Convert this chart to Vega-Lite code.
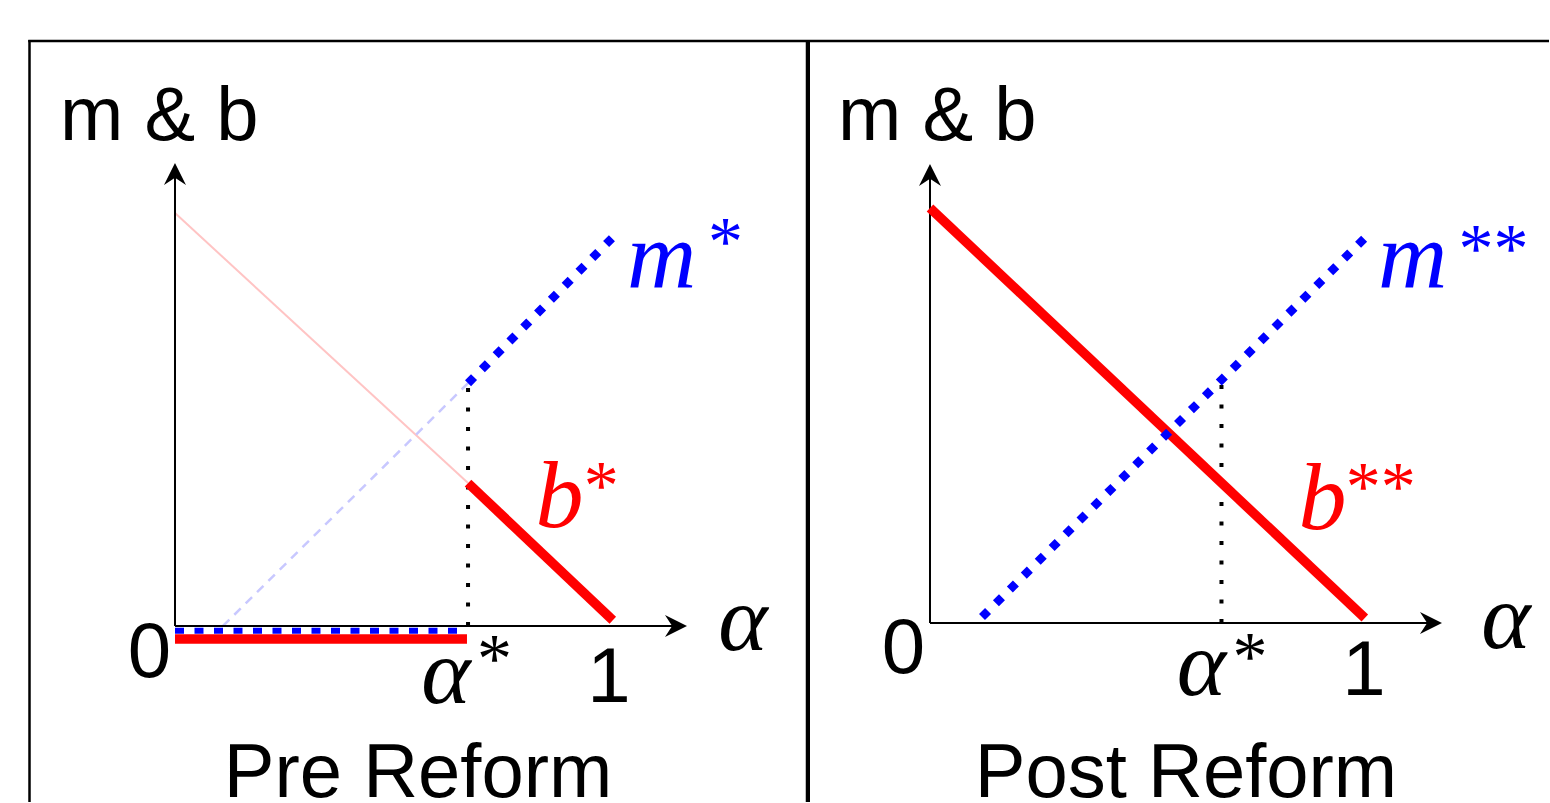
{
  "$schema": "https://vega.github.io/schema/vega-lite/v6.json",
  "padding": 0,
  "spacing": 0,
  "bounds": "flush",
  "background": "white",
  "config": {"view": {"stroke": null, "fill": "white"}},
  "datasets": {
    "segs": [
      {"panel": "L", "seg": "frame", "a": -0.3335, "v": 1.41646, "a2": 1.438636, "v2": 1.41646},
      {"panel": "L", "seg": "frame", "a": -0.33068, "v": -0.42615, "a2": -0.33068, "v2": 1.4189},
      {"panel": "L", "seg": "frame", "a": 1.43636, "v": -0.42615, "a2": 1.43636, "v2": 1.4189},
      {"panel": "L", "seg": "axis", "a": 0, "v": 0, "a2": 0, "v2": 1.0956},
      {"panel": "L", "seg": "axis", "a": 0, "v": 0, "a2": 1.1398, "v2": 0},
      {"panel": "L", "seg": "b_faint", "a": 0, "v": 1.0, "a2": 0.666, "v2": 0.346},
      {"panel": "L", "seg": "m_faint", "a": 0.109, "v": 0, "a2": 0.666, "v2": 0.588},
      {"panel": "L", "seg": "astar", "a": 0.666, "v": 0, "a2": 0.666, "v2": 0.588},
      {"panel": "L", "seg": "b_thick", "a": 0.666, "v": 0.346, "a2": 0.995, "v2": 0.014},
      {"panel": "L", "seg": "b_zero", "a": 0, "v": -0.0315, "a2": 0.6636, "v2": -0.0315},
      {"panel": "L", "seg": "m_zero", "a": 0, "v": -0.0114, "a2": 0.6636, "v2": -0.0114},
      {"panel": "L", "seg": "m_dot", "a": 0.666, "v": 0.588, "a2": 0.993, "v2": 0.939},
      {"panel": "R", "seg": "frame", "a": -0.279176, "v": 1.40241, "a2": 1.41648, "v2": 1.40241},
      {"panel": "R", "seg": "divider", "a": -0.279176, "v": -0.43133, "a2": -0.279176, "v2": 1.4048},
      {"panel": "R", "seg": "axis", "a": 0, "v": 0, "a2": 0, "v2": 1.0807},
      {"panel": "R", "seg": "axis", "a": 0, "v": 0, "a2": 1.1476, "v2": 0},
      {"panel": "R", "seg": "astar", "a": 0.667, "v": 0, "a2": 0.667, "v2": 0.578},
      {"panel": "R", "seg": "b_thick", "a": 0, "v": 1.0, "a2": 0.995, "v2": 0.012},
      {"panel": "R", "seg": "m_dot", "a": 0.119, "v": 0.0145, "a2": 1.002, "v2": 0.935}
    ],
    "arrows": [
      {"panel": "L", "dir": "up", "a": 0, "v": 1.0944},
      {"panel": "L", "dir": "right", "a": 1.1386, "v": 0},
      {"panel": "R", "dir": "up", "a": 0, "v": 1.0795},
      {"panel": "R", "dir": "right", "a": 1.1464, "v": 0}
    ],
    "texts": [
      {"panel": "L", "role": "title", "series": "k", "label": "m & b", "a": -0.26136, "v": 1.17676},
      {"panel": "L", "role": "sans", "series": "k", "label": "0", "a": -0.058, "v": -0.1235},
      {"panel": "L", "role": "sans", "series": "k", "label": "1", "a": 0.9864, "v": -0.184},
      {"panel": "L", "role": "foot", "series": "k", "label": "Pre Reform", "a": 0.5523, "v": -0.414},
      {"panel": "L", "role": "mathc", "series": "k", "label": "α", "a": 1.2909, "v": -0.0581},
      {"panel": "L", "role": "mathc", "series": "k", "label": "α", "a": 0.6159, "v": -0.1864},
      {"panel": "L", "role": "star", "series": "k", "label": "*", "a": 0.7261, "v": -0.1356},
      {"panel": "L", "role": "mathl", "series": "m", "label": "m", "a": 1.0273, "v": 0.8184},
      {"panel": "L", "role": "star", "series": "m", "label": "*", "a": 1.2511, "v": 0.8741},
      {"panel": "L", "role": "mathl", "series": "b", "label": "b", "a": 0.8195, "v": 0.2397},
      {"panel": "L", "role": "star", "series": "b", "label": "*", "a": 0.9687, "v": 0.2833},
      {"panel": "R", "role": "title", "series": "k", "label": "m & b", "a": -0.2105, "v": 1.1639},
      {"panel": "R", "role": "sans", "series": "k", "label": "0", "a": -0.0606, "v": -0.1205},
      {"panel": "R", "role": "sans", "series": "k", "label": "1", "a": 0.9931, "v": -0.1735},
      {"panel": "R", "role": "foot", "series": "k", "label": "Post Reform", "a": 0.5858, "v": -0.4193},
      {"panel": "R", "role": "mathc", "series": "k", "label": "α", "a": 1.3181, "v": -0.0602},
      {"panel": "R", "role": "mathc", "series": "k", "label": "α", "a": 0.6213, "v": -0.1735},
      {"panel": "R", "role": "star", "series": "k", "label": "*", "a": 0.7323, "v": -0.1373},
      {"panel": "R", "role": "mathl", "series": "m", "label": "m", "a": 1.0252, "v": 0.8072},
      {"panel": "R", "role": "star", "series": "m", "label": "**", "a": 1.2895, "v": 0.8458},
      {"panel": "R", "role": "mathl", "series": "b", "label": "b", "a": 0.8435, "v": 0.2265},
      {"panel": "R", "role": "star", "series": "b", "label": "**", "a": 1.0313, "v": 0.2723}
    ]
  },
  "hconcat": [
    {
      "width": 808,
      "height": 803,
      "encoding": {
        "x": {"field": "a", "type": "quantitative", "scale": {"domain": [-0.397727, 1.438636], "nice": false, "zero": false}, "axis": null},
        "y": {"field": "v", "type": "quantitative", "scale": {"domain": [-0.428571, 1.515738], "nice": false, "zero": false}, "axis": null}
      },
      "layer": [
        {"data": {"name": "segs"}, "transform": [{"filter": "datum.panel === 'L' && datum.seg === 'frame'"}],
         "mark": {"type": "rule", "color": "#000000", "strokeWidth": 2.5, "clip": true},
         "encoding": {"x2": {"field": "a2"}, "y2": {"field": "v2"}}},
        {"data": {"name": "segs"}, "transform": [{"filter": "datum.panel === 'L' && datum.seg === 'b_faint'"}],
         "mark": {"type": "rule", "color": "#ffc4c4", "strokeWidth": 2},
         "encoding": {"x2": {"field": "a2"}, "y2": {"field": "v2"}}},
        {"data": {"name": "segs"}, "transform": [{"filter": "datum.panel === 'L' && datum.seg === 'm_faint'"}],
         "mark": {"type": "rule", "color": "#c8c8ff", "strokeWidth": 2.5, "strokeDash": [9, 7]},
         "encoding": {"x2": {"field": "a2"}, "y2": {"field": "v2"}}},
        {"data": {"name": "segs"}, "transform": [{"filter": "datum.panel === 'L' && datum.seg === 'axis'"}],
         "mark": {"type": "rule", "color": "#000000", "strokeWidth": 2},
         "encoding": {"x2": {"field": "a2"}, "y2": {"field": "v2"}}},
        {"data": {"name": "arrows"}, "transform": [{"filter": "datum.panel === 'L'"}],
         "mark": {"type": "point", "filled": true, "color": "#000000", "opacity": 1, "size": 484, "strokeWidth": 0},
         "encoding": {"shape": {"field": "dir", "type": "nominal", "legend": null, "scale": {"domain": ["up", "right"], "range": ["M0,-1L1,1L0,0.35L-1,1Z", "M1,0L-1,1L-0.35,0L-1,-1Z"]}}}},
        {"data": {"name": "segs"}, "transform": [{"filter": "datum.panel === 'L' && datum.seg === 'astar'"}],
         "mark": {"type": "rule", "color": "#000000", "strokeWidth": 4, "strokeDash": [4, 15.5]},
         "encoding": {"x2": {"field": "a2"}, "y2": {"field": "v2"}}},
        {"data": {"name": "segs"}, "transform": [{"filter": "datum.panel === 'L' && (datum.seg === 'b_thick' || datum.seg === 'b_zero')"}],
         "mark": {"type": "rule", "color": "#ff0000", "strokeWidth": 9.5},
         "encoding": {"x2": {"field": "a2"}, "y2": {"field": "v2"}}},
        {"data": {"name": "segs"}, "transform": [{"filter": "datum.panel === 'L' && datum.seg === 'm_zero'"}],
         "mark": {"type": "rule", "color": "#0000ff", "strokeWidth": 6, "strokeDash": [9, 10.5]},
         "encoding": {"x2": {"field": "a2"}, "y2": {"field": "v2"}}},
        {"data": {"name": "segs"}, "transform": [{"filter": "datum.panel === 'L' && datum.seg === 'm_dot'"}],
         "mark": {"type": "rule", "color": "#0000ff", "strokeWidth": 8.5, "strokeDash": [8.5, 11.1]},
         "encoding": {"x2": {"field": "a2"}, "y2": {"field": "v2"}}},
        {"data": {"name": "texts"}, "transform": [{"filter": "datum.panel === 'L' && datum.role === 'title'"}],
         "mark": {"type": "text", "font": "Liberation Sans", "fontSize": 76, "align": "left", "baseline": "alphabetic"},
         "encoding": {"text": {"field": "label"}, "color": {"field": "series", "type": "nominal", "legend": null, "scale": {"domain": ["k", "m", "b"], "range": ["#000000", "#0000ff", "#ff0000"]}}}},
        {"data": {"name": "texts"}, "transform": [{"filter": "datum.panel === 'L' && datum.role === 'sans'"}],
         "mark": {"type": "text", "font": "Liberation Sans", "fontSize": 78, "align": "center", "baseline": "alphabetic", "clip": true},
         "encoding": {"text": {"field": "label"}, "color": {"field": "series", "type": "nominal", "legend": null, "scale": {"domain": ["k", "m", "b"], "range": ["#000000", "#0000ff", "#ff0000"]}}}},
        {"data": {"name": "texts"}, "transform": [{"filter": "datum.panel === 'L' && datum.role === 'foot'"}],
         "mark": {"type": "text", "font": "Liberation Sans", "fontSize": 76, "align": "center", "baseline": "alphabetic", "clip": true},
         "encoding": {"text": {"field": "label"}, "color": {"field": "series", "type": "nominal", "legend": null, "scale": {"domain": ["k", "m", "b"], "range": ["#000000", "#0000ff", "#ff0000"]}}}},
        {"data": {"name": "texts"}, "transform": [{"filter": "datum.panel === 'L' && datum.role === 'mathc'"}],
         "mark": {"type": "text", "font": "Liberation Serif", "fontStyle": "italic", "fontSize": 94, "align": "center", "baseline": "alphabetic"},
         "encoding": {"text": {"field": "label"}, "color": {"field": "series", "type": "nominal", "legend": null, "scale": {"domain": ["k", "m", "b"], "range": ["#000000", "#0000ff", "#ff0000"]}}}},
        {"data": {"name": "texts"}, "transform": [{"filter": "datum.panel === 'L' && datum.role === 'mathl'"}],
         "mark": {"type": "text", "font": "Liberation Serif", "fontStyle": "italic", "fontSize": 96, "align": "left", "baseline": "alphabetic"},
         "encoding": {"text": {"field": "label"}, "color": {"field": "series", "type": "nominal", "legend": null, "scale": {"domain": ["k", "m", "b"], "range": ["#000000", "#0000ff", "#ff0000"]}}}},
        {"data": {"name": "texts"}, "transform": [{"filter": "datum.panel === 'L' && datum.role === 'star'"}],
         "mark": {"type": "text", "font": "Liberation Serif", "fontSize": 70, "align": "center", "baseline": "alphabetic"},
         "encoding": {"text": {"field": "label"}, "color": {"field": "series", "type": "nominal", "legend": null, "scale": {"domain": ["k", "m", "b"], "range": ["#000000", "#0000ff", "#ff0000"]}}}}
      ]
    },
    {
      "width": 742,
      "height": 803,
      "encoding": {
        "x": {"field": "a", "type": "quantitative", "scale": {"domain": [-0.279176, 1.418764], "nice": false, "zero": false}, "axis": null},
        "y": {"field": "v", "type": "quantitative", "scale": {"domain": [-0.433735, 1.501205], "nice": false, "zero": false}, "axis": null}
      },
      "layer": [
        {"data": {"name": "segs"}, "transform": [{"filter": "datum.panel === 'R' && datum.seg === 'frame'"}],
         "mark": {"type": "rule", "color": "#000000", "strokeWidth": 2.5, "clip": true},
         "encoding": {"x2": {"field": "a2"}, "y2": {"field": "v2"}}},
        {"data": {"name": "segs"}, "transform": [{"filter": "datum.panel === 'R' && datum.seg === 'divider'"}],
         "mark": {"type": "rule", "color": "#000000", "strokeWidth": 4, "clip": true},
         "encoding": {"x2": {"field": "a2"}, "y2": {"field": "v2"}}},
        {"data": {"name": "segs"}, "transform": [{"filter": "datum.panel === 'R' && datum.seg === 'axis'"}],
         "mark": {"type": "rule", "color": "#000000", "strokeWidth": 2},
         "encoding": {"x2": {"field": "a2"}, "y2": {"field": "v2"}}},
        {"data": {"name": "arrows"}, "transform": [{"filter": "datum.panel === 'R'"}],
         "mark": {"type": "point", "filled": true, "color": "#000000", "opacity": 1, "size": 484, "strokeWidth": 0},
         "encoding": {"shape": {"field": "dir", "type": "nominal", "legend": null, "scale": {"domain": ["up", "right"], "range": ["M0,-1L1,1L0,0.35L-1,1Z", "M1,0L-1,1L-0.35,0L-1,-1Z"]}}}},
        {"data": {"name": "segs"}, "transform": [{"filter": "datum.panel === 'R' && datum.seg === 'astar'"}],
         "mark": {"type": "rule", "color": "#000000", "strokeWidth": 4, "strokeDash": [4, 15.5]},
         "encoding": {"x2": {"field": "a2"}, "y2": {"field": "v2"}}},
        {"data": {"name": "segs"}, "transform": [{"filter": "datum.panel === 'R' && datum.seg === 'b_thick'"}],
         "mark": {"type": "rule", "color": "#ff0000", "strokeWidth": 9.5},
         "encoding": {"x2": {"field": "a2"}, "y2": {"field": "v2"}}},
        {"data": {"name": "segs"}, "transform": [{"filter": "datum.panel === 'R' && datum.seg === 'm_dot'"}],
         "mark": {"type": "rule", "color": "#0000ff", "strokeWidth": 8.5, "strokeDash": [8.5, 11.1]},
         "encoding": {"x2": {"field": "a2"}, "y2": {"field": "v2"}}},
        {"data": {"name": "texts"}, "transform": [{"filter": "datum.panel === 'R' && datum.role === 'title'"}],
         "mark": {"type": "text", "font": "Liberation Sans", "fontSize": 76, "align": "left", "baseline": "alphabetic"},
         "encoding": {"text": {"field": "label"}, "color": {"field": "series", "type": "nominal", "legend": null, "scale": {"domain": ["k", "m", "b"], "range": ["#000000", "#0000ff", "#ff0000"]}}}},
        {"data": {"name": "texts"}, "transform": [{"filter": "datum.panel === 'R' && datum.role === 'sans'"}],
         "mark": {"type": "text", "font": "Liberation Sans", "fontSize": 78, "align": "center", "baseline": "alphabetic", "clip": true},
         "encoding": {"text": {"field": "label"}, "color": {"field": "series", "type": "nominal", "legend": null, "scale": {"domain": ["k", "m", "b"], "range": ["#000000", "#0000ff", "#ff0000"]}}}},
        {"data": {"name": "texts"}, "transform": [{"filter": "datum.panel === 'R' && datum.role === 'foot'"}],
         "mark": {"type": "text", "font": "Liberation Sans", "fontSize": 76, "align": "center", "baseline": "alphabetic", "clip": true},
         "encoding": {"text": {"field": "label"}, "color": {"field": "series", "type": "nominal", "legend": null, "scale": {"domain": ["k", "m", "b"], "range": ["#000000", "#0000ff", "#ff0000"]}}}},
        {"data": {"name": "texts"}, "transform": [{"filter": "datum.panel === 'R' && datum.role === 'mathc'"}],
         "mark": {"type": "text", "font": "Liberation Serif", "fontStyle": "italic", "fontSize": 94, "align": "center", "baseline": "alphabetic"},
         "encoding": {"text": {"field": "label"}, "color": {"field": "series", "type": "nominal", "legend": null, "scale": {"domain": ["k", "m", "b"], "range": ["#000000", "#0000ff", "#ff0000"]}}}},
        {"data": {"name": "texts"}, "transform": [{"filter": "datum.panel === 'R' && datum.role === 'mathl'"}],
         "mark": {"type": "text", "font": "Liberation Serif", "fontStyle": "italic", "fontSize": 96, "align": "left", "baseline": "alphabetic"},
         "encoding": {"text": {"field": "label"}, "color": {"field": "series", "type": "nominal", "legend": null, "scale": {"domain": ["k", "m", "b"], "range": ["#000000", "#0000ff", "#ff0000"]}}}},
        {"data": {"name": "texts"}, "transform": [{"filter": "datum.panel === 'R' && datum.role === 'star'"}],
         "mark": {"type": "text", "font": "Liberation Serif", "fontSize": 70, "align": "center", "baseline": "alphabetic"},
         "encoding": {"text": {"field": "label"}, "color": {"field": "series", "type": "nominal", "legend": null, "scale": {"domain": ["k", "m", "b"], "range": ["#000000", "#0000ff", "#ff0000"]}}}}
      ]
    }
  ]
}
